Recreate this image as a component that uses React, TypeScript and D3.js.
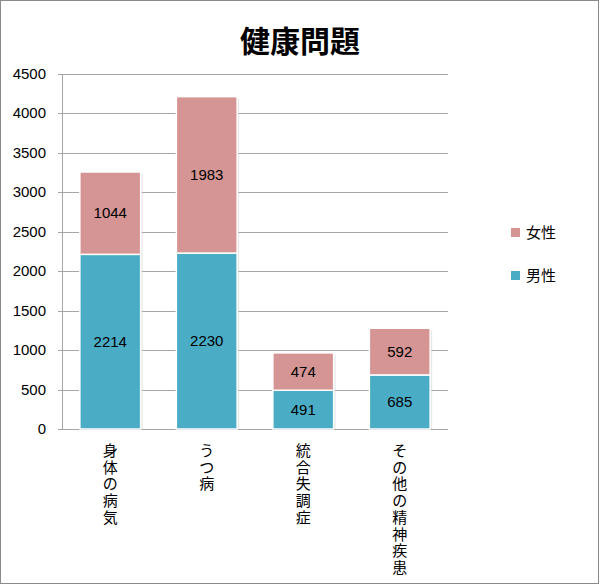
import React from "react";
import * as d3 from "d3";

const categories = ["身体の病気", "うつ病", "統合失調症", "その他の精神疾患"];
const male = [2214, 2230, 491, 685];
const female = [1044, 1983, 474, 592];
const yTicks = [0, 500, 1000, 1500, 2000, 2500, 3000, 3500, 4000, 4500];
const seriesNames = ["女性", "男性"];
const colors = { male: "#4BACC6", female: "#D49594" };

const W = 600, H = 584;
const plot = { left: 62, right: 448, top: 74, bottom: 429 };
const jpFont = "'Noto Sans CJK JP', sans-serif";
const numFont = "'Liberation Sans', 'Noto Sans', sans-serif";

export default function App() {
  const x = d3.scaleBand<string>().domain(categories).range([plot.left, plot.right]).paddingInner(0.37).paddingOuter(0.185);
  const y = d3.scaleLinear().domain([0, 4500]).range([plot.bottom, plot.top]);
  const bw = x.bandwidth();
  return (
    <svg width={W} height={H} style={{ position: "absolute", left: 0, top: 0, background: "#fff" }}>
      <rect x={0.5} y={0.5} width={W - 2} height={H - 1} fill="#fff" stroke="#8a8a8a" strokeWidth={1} />
      <text x={300} y={52} textAnchor="middle" fontFamily={jpFont} fontWeight="bold" fontSize={30} fill="#000">健康問題</text>
      {yTicks.map((t) => (
        <g key={t}>
          <line x1={plot.left - 4} x2={plot.right} y1={Math.round(y(t)) + 0.5} y2={Math.round(y(t)) + 0.5} stroke="#a6a6a6" strokeWidth={1} />
          <text x={46} y={y(t) + 5} textAnchor="end" fontFamily={numFont} fontSize={15} fill="#000">{t}</text>
        </g>
      ))}
      <line x1={plot.left + 0.5} x2={plot.left + 0.5} y1={plot.top} y2={plot.bottom} stroke="#a6a6a6" />
      {categories.map((c, i) => {
        const x0 = x(c)!;
        const m = male[i], f = female[i];
        const yM = y(m), yT = y(m + f);
        return (
          <g key={c}>
            <rect x={x0 + 2} y={yT + 2} width={bw} height={plot.bottom - yT - 2} fill="#d9d9d9" opacity={0.6} />
            <rect x={x0} y={yM} width={bw} height={plot.bottom - yM} fill={colors.male} stroke="#fff" strokeWidth={1.5} />
            <rect x={x0} y={yT} width={bw} height={yM - yT} fill={colors.female} stroke="#fff" strokeWidth={1.5} />
            <text x={x0 + bw / 2} y={(yM + plot.bottom) / 2 + 5} textAnchor="middle" fontFamily={numFont} fontSize={15} fill="#000">{m}</text>
            <text x={x0 + bw / 2} y={(yT + yM) / 2 + 5} textAnchor="middle" fontFamily={numFont} fontSize={15} fill="#000">{f}</text>
            {Array.from(c).map((ch, k) => (
              <text key={k} x={x0 + bw / 2} y={456 + k * 16.7} textAnchor="middle" fontFamily={jpFont} fontSize={15} fill="#000">{ch}</text>
            ))}
          </g>
        );
      })}
      {seriesNames.map((s, i) => (
        <g key={s}>
          <rect x={511} y={228 + i * 43} width={9} height={9} fill={i === 0 ? colors.female : colors.male} />
          <text x={526} y={238 + i * 43} fontFamily={jpFont} fontSize={15} fill="#000">{s}</text>
        </g>
      ))}
    </svg>
  );
}
